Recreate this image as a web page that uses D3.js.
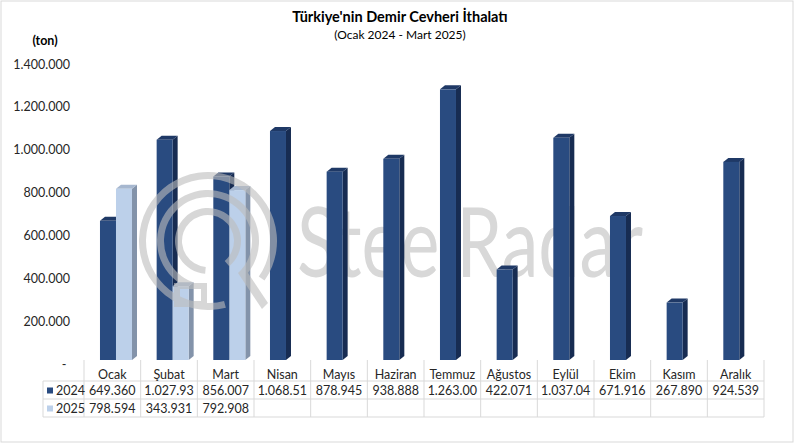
<!DOCTYPE html>
<html><head><meta charset="utf-8">
<script src="https://cdn.jsdelivr.net/npm/d3@7/dist/d3.min.js"></script>
<style>body{margin:0;background:#fff}svg{display:block}text{font-family:Lato,"Open Sans",sans-serif}</style>
</head><body><svg id="c" width="800" height="443"></svg>
<script>
const categories = ["Ocak","Şubat","Mart","Nisan","Mayıs","Haziran","Temmuz","Ağustos","Eylül","Ekim","Kasım","Aralık"];
const seriesNames = ["2024","2025"];
const values2024 = [649360,1027930,856007,1068510,878945,938888,1263000,422071,1037040,671916,267890,924539];
const values2025 = [798594,343931,792908,null,null,null,null,null,null,null,null,null];
const labels2024 = ["649.360","1.027.93","856.007","1.068.51","878.945","938.888","1.263.00","422.071","1.037.04","671.916","267.890","924.539"];
const labels2025 = ["798.594","343.931","792.908","","","","","","","","",""];
const yTicks = [0,200000,400000,600000,800000,1000000,1200000,1400000];
const yTickLabels = ["-","200.000","400.000","600.000","800.000","1.000.000","1.200.000","1.400.000"];
const title = "Türkiye'nin Demir Cevheri İthalatı";
const subtitle = "(Ocak 2024 - Mart 2025)";
const unit = "(ton)";
const watermark = "SteelRadar";

const svg = d3.select("#c");
svg.append("rect").attr("x",1).attr("y",1).attr("width",792).attr("height",441)
  .attr("fill","#fff").attr("stroke","#d9d9d9");

const x = d3.scaleBand().domain(categories).range([84,764]).padding(0);
const bw = x.bandwidth();
const xs = d3.scaleBand().domain(seriesNames).range([bw*0.282, bw*0.847]).padding(0);
const y = d3.scaleLinear().domain([0,1400000]).range([360,60]);
const dx = 5, dy = 4;

// watermark text (behind bars)
svg.append("text").attr("x",297).attr("y",277).attr("font-family","Roboto").attr("font-weight",400)
  .attr("font-size",96).attr("fill","#d8d8d8")
  .attr("textLength",346).attr("lengthAdjust","spacingAndGlyphs").text(watermark);

// y axis labels
svg.append("g").selectAll("text").data(yTicks).join("text")
  .attr("x",(d,i)=> i===0 ? 64 : 70).attr("y",d=>y(d)+4+4.5)
  .attr("text-anchor",(d,i)=> i===0 ? "middle":"end")
  .attr("font-size",12.5).attr("fill","#262626")
  .text((d,i)=>yTickLabels[i]);

const colors = {
  "2024": {front:"#294b80", side:"#172c52", top:"#1f3966"},
  "2025": {front:"#bcd0ea", side:"#8393aa", top:"#a6b7cf"}
};

const series = [{name:"2024", vals:values2024},{name:"2025", vals:values2025}];
const gBars = svg.append("g");
series.forEach(s=>{
  const c = colors[s.name];
  categories.forEach((cat,i)=>{
    const v = s.vals[i];
    if (v==null) return;
    const x0 = x(cat)+xs(s.name), w = xs.bandwidth(), yt = y(v), yb = y(0);
    const g = gBars.append("g");
    g.append("path").attr("d",`M${x0+w},${yt}L${x0+w+dx},${yt-dy}L${x0+w+dx},${yb-dy}L${x0+w},${yb}Z`).attr("fill",c.side);
    g.append("path").attr("d",`M${x0},${yt}L${x0+dx},${yt-dy}L${x0+w+dx},${yt-dy}L${x0+w},${yt}Z`).attr("fill",c.top);
    g.append("rect").attr("x",x0).attr("y",yt).attr("width",w).attr("height",yb-yt).attr("fill",c.front);
  });
});

// watermark logo (over bars)
const logo = svg.append("g").attr("transform","translate(208,241)").attr("fill","#bdbdbd").attr("opacity",0.6);
const arc = d3.arc();
const deg = Math.PI/180;
logo.append("path").attr("d",arc({innerRadius:62,outerRadius:69,startAngle:165*deg,endAngle:485*deg}));
logo.append("path").attr("d",arc({innerRadius:44,outerRadius:51,startAngle:200*deg,endAngle:490*deg}));
logo.append("path").attr("d",arc({innerRadius:26,outerRadius:33,startAngle:185*deg,endAngle:500*deg}));
logo.append("path").attr("d","M30,32L36,26L60,62L54,68Z");
logo.append("path").attr("d","M-34,42L-1,42L-1,66L-34,66Z M-28,48L-28,60L-7,60L-7,48Z").attr("fill-rule","evenodd");

// table
const tg = svg.append("g");
const grid = "#d9d9d9";
tg.selectAll("line.v").data(d3.range(categories.length+1)).join("line")
  .attr("x1",i=>84+i*bw).attr("x2",i=>84+i*bw).attr("y1",360).attr("y2",417).attr("stroke",grid);
tg.append("line").attr("x1",43).attr("x2",43).attr("y1",381).attr("y2",417).attr("stroke",grid);
[381,399,417].forEach(yy=>tg.append("line").attr("x1",43).attr("x2",764).attr("y1",yy).attr("y2",yy).attr("stroke",grid));

tg.selectAll("text.cat").data(categories).join("text")
  .attr("x",d=>x(d)+bw/2).attr("y",379).attr("text-anchor","middle")
  .attr("font-size",12.5).attr("fill","#262626").text(d=>d);
tg.selectAll("text.l24").data(labels2024).join("text")
  .attr("x",(d,i)=>x(categories[i])+bw/2).attr("y",395).attr("text-anchor","middle")
  .attr("font-size",12.5).attr("fill","#262626").text(d=>d);
tg.selectAll("text.l25").data(labels2025).join("text")
  .attr("x",(d,i)=>x(categories[i])+bw/2).attr("y",413).attr("text-anchor","middle")
  .attr("font-size",12.5).attr("fill","#262626").text(d=>d);
seriesNames.forEach((n,i)=>{
  const cy = 390.5 + i*18;
  tg.append("rect").attr("x",47).attr("y",cy-3).attr("width",6).attr("height",6).attr("fill",colors[n].front);
  tg.append("text").attr("x",56).attr("y",cy+4.5).attr("font-size",12.5).attr("fill","#262626").text(n);
});

// titles
svg.append("text").attr("x",400).attr("y",22).attr("text-anchor","middle").attr("font-weight",700)
  .attr("font-size",14.5).attr("fill","#000").text(title);
svg.append("text").attr("x",400).attr("y",39).attr("text-anchor","middle")
  .attr("font-size",12).attr("fill","#000").text(subtitle);
svg.append("text").attr("x",45).attr("y",45).attr("text-anchor","middle").attr("font-weight",700)
  .attr("font-size",12.5).attr("fill","#000").text(unit);
</script></body></html>
